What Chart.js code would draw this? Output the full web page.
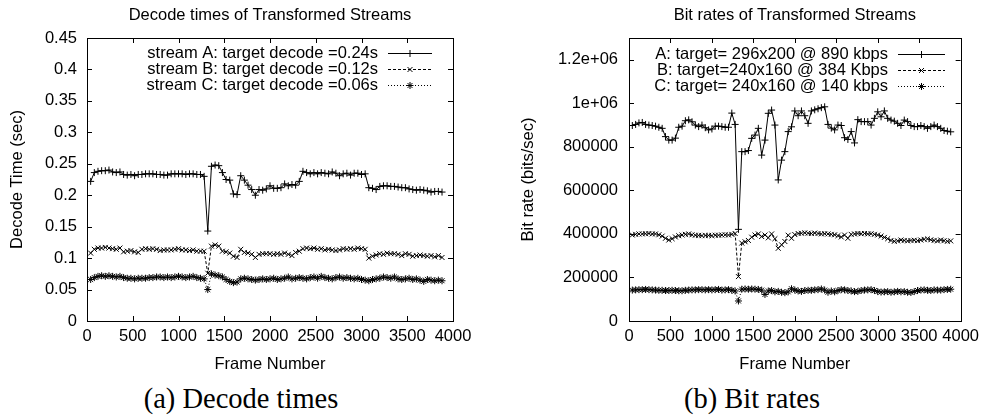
<!DOCTYPE html>
<html>
<head>
<meta charset="utf-8">
<script src="https://cdn.jsdelivr.net/npm/chart.js@4/dist/chart.umd.min.js"></script>
<style>
  body { margin: 0; background: #fff; width: 985px; height: 417px; position: relative; overflow: hidden; }
  canvas { position: absolute; top: 0; }
  #decode { left: 0; }
  #rate { left: 490px; }
  .cap { position: absolute; top: 385px; font-family: "Liberation Serif", "Times New Roman", serif; font-size: 28.5px; line-height: 28px; color: #000; transform: translateX(-50%); white-space: nowrap; }
</style>
</head>
<body>
<canvas id="decode" width="490" height="375"></canvas>
<canvas id="rate" width="495" height="375"></canvas>
<div class="cap" style="left:241px">(a) Decode times</div>
<div class="cap" style="left:752px">(b) Bit rates</div>
<script>
// sampled frame numbers
const FRAMES = [40,80,120,160,200,240,280,320,360,400,440,480,520,560,600,640,680,720,760,800,
  840,880,920,960,1000,1040,1080,1120,1160,1200,1240,1280,1320,1360,1400,1440,1480,1520,1560,1600,
  1640,1680,1720,1760,1800,1840,1880,1920,1960,2000,2040,2080,2120,2160,2200,2240,2280,2320,2360,2400,
  2440,2480,2520,2560,2600,2640,2680,2720,2760,2800,2840,2880,2920,2960,3000,3040,3080,3120,3160,3200,
  3240,3280,3320,3360,3400,3440,3480,3520,3560,3600,3640,3680,3720,3760,3800,3840,3880];

// decode time per frame (sec)
const DECODE_A = [0.222,0.236,0.238,0.239,0.239,0.240,0.237,0.236,0.237,0.233,
  0.232,0.233,0.231,0.233,0.233,0.234,0.234,0.234,0.233,0.233,
  0.232,0.232,0.234,0.234,0.234,0.234,0.233,0.234,0.234,0.233,
  0.233,0.230,0.143,0.246,0.248,0.247,0.236,0.225,0.224,0.202,
  0.201,0.231,0.224,0.216,0.209,0.200,0.209,0.208,0.210,0.215,
  0.211,0.211,0.212,0.218,0.215,0.217,0.216,0.222,0.238,0.236,
  0.234,0.236,0.234,0.236,0.235,0.234,0.237,0.235,0.231,0.234,
  0.235,0.232,0.235,0.235,0.233,0.234,0.212,0.211,0.209,0.214,
  0.215,0.215,0.214,0.214,0.213,0.212,0.212,0.210,0.209,0.208,
  0.209,0.208,0.207,0.205,0.206,0.206,0.205];
const DECODE_B = [0.108,0.114,0.116,0.116,0.117,0.116,0.115,0.114,0.116,0.110,
  0.111,0.112,0.110,0.109,0.114,0.115,0.114,0.115,0.114,0.112,
  0.113,0.113,0.113,0.114,0.115,0.113,0.113,0.112,0.113,0.111,
  0.111,0.111,0.076,0.119,0.121,0.119,0.111,0.110,0.108,0.103,
  0.101,0.114,0.109,0.108,0.106,0.101,0.106,0.107,0.107,0.107,
  0.106,0.107,0.106,0.108,0.106,0.104,0.109,0.111,0.115,0.116,
  0.115,0.116,0.114,0.115,0.113,0.114,0.113,0.112,0.113,0.115,
  0.114,0.115,0.114,0.116,0.115,0.114,0.100,0.103,0.105,0.107,
  0.106,0.108,0.107,0.107,0.106,0.104,0.107,0.106,0.103,0.104,
  0.105,0.104,0.103,0.104,0.102,0.104,0.101];
const DECODE_C = [0.066,0.069,0.071,0.072,0.071,0.072,0.071,0.070,0.071,0.069,
  0.068,0.068,0.067,0.068,0.068,0.068,0.069,0.069,0.070,0.070,
  0.069,0.070,0.069,0.070,0.071,0.070,0.069,0.070,0.071,0.069,
  0.068,0.067,0.050,0.075,0.073,0.072,0.070,0.066,0.063,0.061,
  0.062,0.067,0.068,0.067,0.066,0.065,0.066,0.067,0.066,0.067,
  0.068,0.066,0.067,0.068,0.070,0.067,0.068,0.069,0.068,0.067,
  0.069,0.070,0.068,0.071,0.069,0.068,0.067,0.069,0.070,0.068,
  0.069,0.068,0.067,0.068,0.066,0.065,0.064,0.066,0.067,0.068,
  0.070,0.069,0.068,0.070,0.067,0.066,0.067,0.068,0.066,0.067,
  0.065,0.063,0.066,0.065,0.064,0.065,0.064];

// bit rate per frame (kbit/s)
const RATE_A = [898,903,910,912,903,900,898,895,890,885,
  847,831,831,840,890,895,920,924,915,900,
  893,900,888,878,882,895,895,893,890,890,
  955,903,421,778,778,783,839,854,885,762,
  831,954,969,900,648,739,778,870,892,965,
  943,965,943,908,965,970,975,980,984,903,
  886,878,900,898,842,834,870,818,925,916,
  916,916,900,931,961,938,965,931,923,918,
  908,898,923,916,898,893,893,898,893,885,
  893,900,893,885,875,872,869];
const RATE_B = [395,398,400,400,401,402,400,400,396,390,
  380,372,378,386,392,395,398,400,396,394,
  393,392,393,393,392,394,394,395,396,395,
  398,402,204,358,364,370,385,395,400,388,
  395,382,400,378,334,350,365,394,380,397,
  402,403,405,403,402,404,402,400,401,400,
  398,396,392,386,395,380,398,400,402,401,
  402,400,401,398,395,390,384,378,370,366,
  368,372,370,368,370,371,369,372,375,377,
  373,370,368,372,369,366,368];
const RATE_C = [142,143,144,144,145,144,143,142,141,141,
  140,140,141,140,139,139,141,142,143,143,
  144,144,143,144,143,144,145,142,143,144,
  141,138,92,146,147,146,147,146,145,142,
  122,138,140,134,136,132,130,134,148,142,
  138,136,140,141,141,143,144,147,142,132,
  138,134,140,144,143,140,138,135,136,140,
  142,143,144,140,135,133,134,135,132,134,
  136,134,135,132,131,135,140,142,143,141,
  140,143,142,142,144,145,146];

const X_TICKS = [0,500,1000,1500,2000,2500,3000,3500,4000];
const DECODE_TICKS = [0,0.05,0.1,0.15,0.2,0.25,0.3,0.35,0.4,0.45];
const DECODE_LABELS = ['0','0.05','0.1','0.15','0.2','0.25','0.3','0.35','0.4','0.45'];
const RATE_TICKS = [0,200000,400000,600000,800000,1000000,1200000];
const RATE_LABELS = ['0','200000','400000','600000','800000','1e+06','1.2e+06'];

const FONT = { family: '"Liberation Sans", Arial, sans-serif', size: 16.5 };

// gnuplot-style frame: closed border, inward mirrored ticks, title, legend inside top right
const gnuFrame = {
  id: 'gnuFrame',
  afterDraw(chart, args, o) {
    const { ctx, chartArea: a, scales: { x, y } } = chart;
    ctx.save();
    ctx.strokeStyle = '#000';
    ctx.lineWidth = 1;
    ctx.beginPath();
    x.ticks.forEach(t => {
      const px = Math.round(x.getPixelForValue(t.value)) + 0.5;
      ctx.moveTo(px, a.bottom); ctx.lineTo(px, a.bottom - 5);
      ctx.moveTo(px, a.top); ctx.lineTo(px, a.top + 5);
    });
    y.ticks.forEach(t => {
      const py = Math.round(y.getPixelForValue(t.value)) + 0.5;
      ctx.moveTo(a.left, py); ctx.lineTo(a.left + 5, py);
      ctx.moveTo(a.right, py); ctx.lineTo(a.right - 5, py);
    });
    ctx.stroke();
    ctx.strokeRect(Math.round(a.left) + 0.5, Math.round(a.top) + 0.5, Math.round(a.right - a.left), Math.round(a.bottom - a.top));

    ctx.fillStyle = '#000';
    ctx.font = '16.5px "Liberation Sans", Arial, sans-serif';
    ctx.textBaseline = 'middle';
    ctx.textAlign = 'center';
    ctx.fillText(o.title, (a.left + a.right) / 2, 15);

    ctx.textAlign = 'right';
    chart.data.datasets.forEach((ds, i) => {
      const lx = o.legendRight, ly = o.legendTop + i * 16;
      ctx.fillText(ds.label, lx, ly);
      ctx.setLineDash(ds.borderDash || []);
      ctx.beginPath();
      ctx.moveTo(lx + 10, ly + 0.5);
      ctx.lineTo(lx + o.sampleLen + 10, ly + 0.5);
      ctx.stroke();
      ctx.setLineDash([]);
      Chart.helpers.drawPoint(ctx, { pointStyle: ds.pointStyle, radius: 3.5, rotation: 0, borderWidth: 1 },
        lx + 10 + o.sampleLen / 2, ly + 0.5);
    });
    ctx.restore();
  }
};

function series(label, xs, values, dash, style) {
  return {
    label,
    data: values.map((v, i) => ({ x: xs[i], y: v })),
    borderColor: '#000', borderWidth: 1, borderDash: dash,
    pointStyle: style, pointRadius: 3.5, pointBorderColor: '#000', pointBorderWidth: 1,
    pointBackgroundColor: 'rgba(0,0,0,0)', tension: 0, fill: false
  };
}

function makeChart(id, cfg) {
  new Chart(document.getElementById(id), {
    type: 'line',
    data: { datasets: cfg.datasets },
    options: {
      responsive: false, animation: false, devicePixelRatio: 1,
      layout: { padding: { top: 38, right: cfg.padRight, left: 0, bottom: 0 } },
      plugins: {
        legend: { display: false }, tooltip: { enabled: false },
        gnuFrame: { title: cfg.title, legendRight: cfg.legendRight, legendTop: cfg.legendTop, sampleLen: cfg.sampleLen }
      },
      scales: {
        x: {
          type: 'linear', min: 0, max: 4000,
          afterBuildTicks: s => { s.ticks = X_TICKS.map(v => ({ value: v })); },
          afterFit: s => { s.height = 54; },
          grid: { display: false, drawTicks: false }, border: { display: false },
          ticks: { color: '#000', font: FONT, padding: 6, maxRotation: 0, autoSkip: false, callback: v => String(v) },
          title: { display: true, text: 'Frame Number', color: '#000', font: FONT, padding: { top: 0, bottom: 1 } }
        },
        y: {
          type: 'linear', min: 0, max: cfg.yMax,
          afterBuildTicks: s => { s.ticks = cfg.yTicks.map(v => ({ value: v })); },
          afterFit: s => { s.width = cfg.yWidth; },
          grid: { display: false, drawTicks: false }, border: { display: false },
          ticks: { color: '#000', font: FONT, padding: cfg.yPad, autoSkip: false, callback: (v, i) => cfg.yLabels[i] },
          title: { display: true, text: cfg.yTitle, color: '#000', font: FONT, padding: { top: cfg.yTitlePad, bottom: 0 } }
        }
      }
    },
    plugins: [gnuFrame]
  });
}

makeChart('decode', {
  title: 'Decode times of Transformed Streams',
  yTitle: 'Decode Time (sec)',
  yMax: 0.45, yTicks: DECODE_TICKS, yLabels: DECODE_LABELS,
  yWidth: 87, yPad: 10, yTitlePad: 8, padRight: 37,
  legendRight: 378, legendTop: 53, sampleLen: 44,
  datasets: [
    series('stream A: target decode =0.24s', FRAMES, DECODE_A, [], 'cross'),
    series('stream B: target decode =0.12s', FRAMES, DECODE_B, [3, 2], 'crossRot'),
    series('stream C: target decode =0.06s', FRAMES, DECODE_C, [1, 2], 'star')
  ]
});

makeChart('rate', {
  title: 'Bit rates of Transformed Streams',
  yTitle: 'Bit rate (bits/sec)',
  yMax: 1300000, yTicks: RATE_TICKS, yLabels: RATE_LABELS,
  yWidth: 139, yPad: 11, yTitlePad: 29, padRight: 20,
  legendRight: 398, legendTop: 54, sampleLen: 47,
  datasets: [
    series('A: target= 296x200 @ 890 kbps', FRAMES, RATE_A.map(v => v * 1000), [], 'cross'),
    series('B: target=240x160 @ 384 Kbps', FRAMES, RATE_B.map(v => v * 1000), [3, 2], 'crossRot'),
    series('C: target= 240x160 @ 140 kbps', FRAMES, RATE_C.map(v => v * 1000), [1, 2], 'star')
  ]
});
</script>
</body>
</html>
